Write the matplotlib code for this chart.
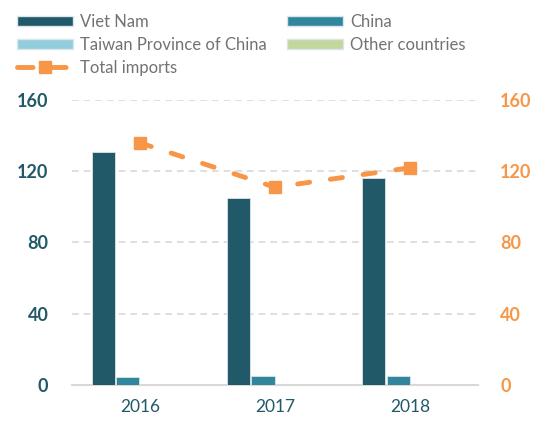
import matplotlib
matplotlib.use("Agg")
import matplotlib.pyplot as plt
import numpy as np
from matplotlib.patches import Patch
from matplotlib.lines import Line2D

plt.rcParams['font.family'] = ['Lato', 'DejaVu Sans']

years = ["2016", "2017", "2018"]
viet_nam = [131, 105, 116]
china = [4.3, 5, 5]
taiwan = [0, 0, 0]
other = [0, 0, 0]
total = [136, 111, 122]

series = [("Viet Nam", viet_nam, "#215968"),
          ("China", china, "#31859C"),
          ("Taiwan Province of China", taiwan, "#93CDDD"),
          ("Other countries", other, "#C3D69B")]
orange = "#F79646"
teal = "#215968"

fig = plt.figure(figsize=(5.42, 4.21), dpi=100)
ax = fig.add_axes([0.133, 0.0855, 0.749, 0.677])
x = np.arange(len(years))
step = 0.18
w = 0.172
for i, (name, vals, col) in enumerate(series):
    ax.bar(x + (i - 1.5) * step, vals, width=w, color=col, edgecolor="#D9E6EA",
           linewidth=0.6, zorder=3)

ax.set_xlim(-0.5, 2.5)
ax.set_ylim(0, 160)
ax.set_yticks([0, 40, 80, 120, 160])
ax.grid(axis="y", color="#D9D9D9", linestyle=(0, (4, 3)), linewidth=1.2, zorder=0)
for s in ["top", "right", "left"]:
    ax.spines[s].set_visible(False)
ax.spines["bottom"].set_color("#D9D9D9")
ax.spines["bottom"].set_linewidth(1.5)
ax.set_xticks(x)
ax.set_xticklabels(years)
ax.tick_params(axis="x", length=0, labelsize=12.5, labelcolor=teal, pad=10)
ax.tick_params(axis="y", length=0, labelsize=13, labelcolor=teal, pad=17)
for t in ax.get_yticklabels():
    t.set_fontweight("bold")

ax2 = ax.twinx()
ax2.set_ylim(0, 160)
ax2.set_yticks([0, 40, 80, 120, 160])
for s in ["top", "right", "left", "bottom"]:
    ax2.spines[s].set_visible(False)
ax2.tick_params(axis="y", length=0, labelsize=13, labelcolor=orange, pad=16)
for t in ax2.get_yticklabels():
    t.set_fontweight("bold")
ax2.plot(x, total, color=orange, linewidth=3.5, linestyle=(0, (2.5, 4.3)),
         dash_capstyle="round", marker="s", markersize=8.5, zorder=5)

patches = {n: Patch(facecolor=c, edgecolor="#D9E6EA", label=n) for n, _, c in series}
line_h = Line2D([0], [0], color=orange, linewidth=3.5, linestyle=(0, (3.2, 3.6)),
                dash_capstyle="round", marker="s", markersize=8.5, label="Total imports")
handles = [patches["Viet Nam"], patches["Taiwan Province of China"], line_h,
           patches["China"], patches["Other countries"]]
leg = fig.legend(handles=handles, ncol=2, loc="upper left",
                 bbox_to_anchor=(17 / 542, 1 - 14 / 421),
                 frameon=False, fontsize=12, handlelength=3.35, handleheight=0.6,
                 columnspacing=1.2, labelspacing=0.42, handletextpad=0.45,
                 borderpad=0, borderaxespad=0)
for t in leg.get_texts():
    t.set_color("#767171")

fig.savefig("out.png", dpi=100)
